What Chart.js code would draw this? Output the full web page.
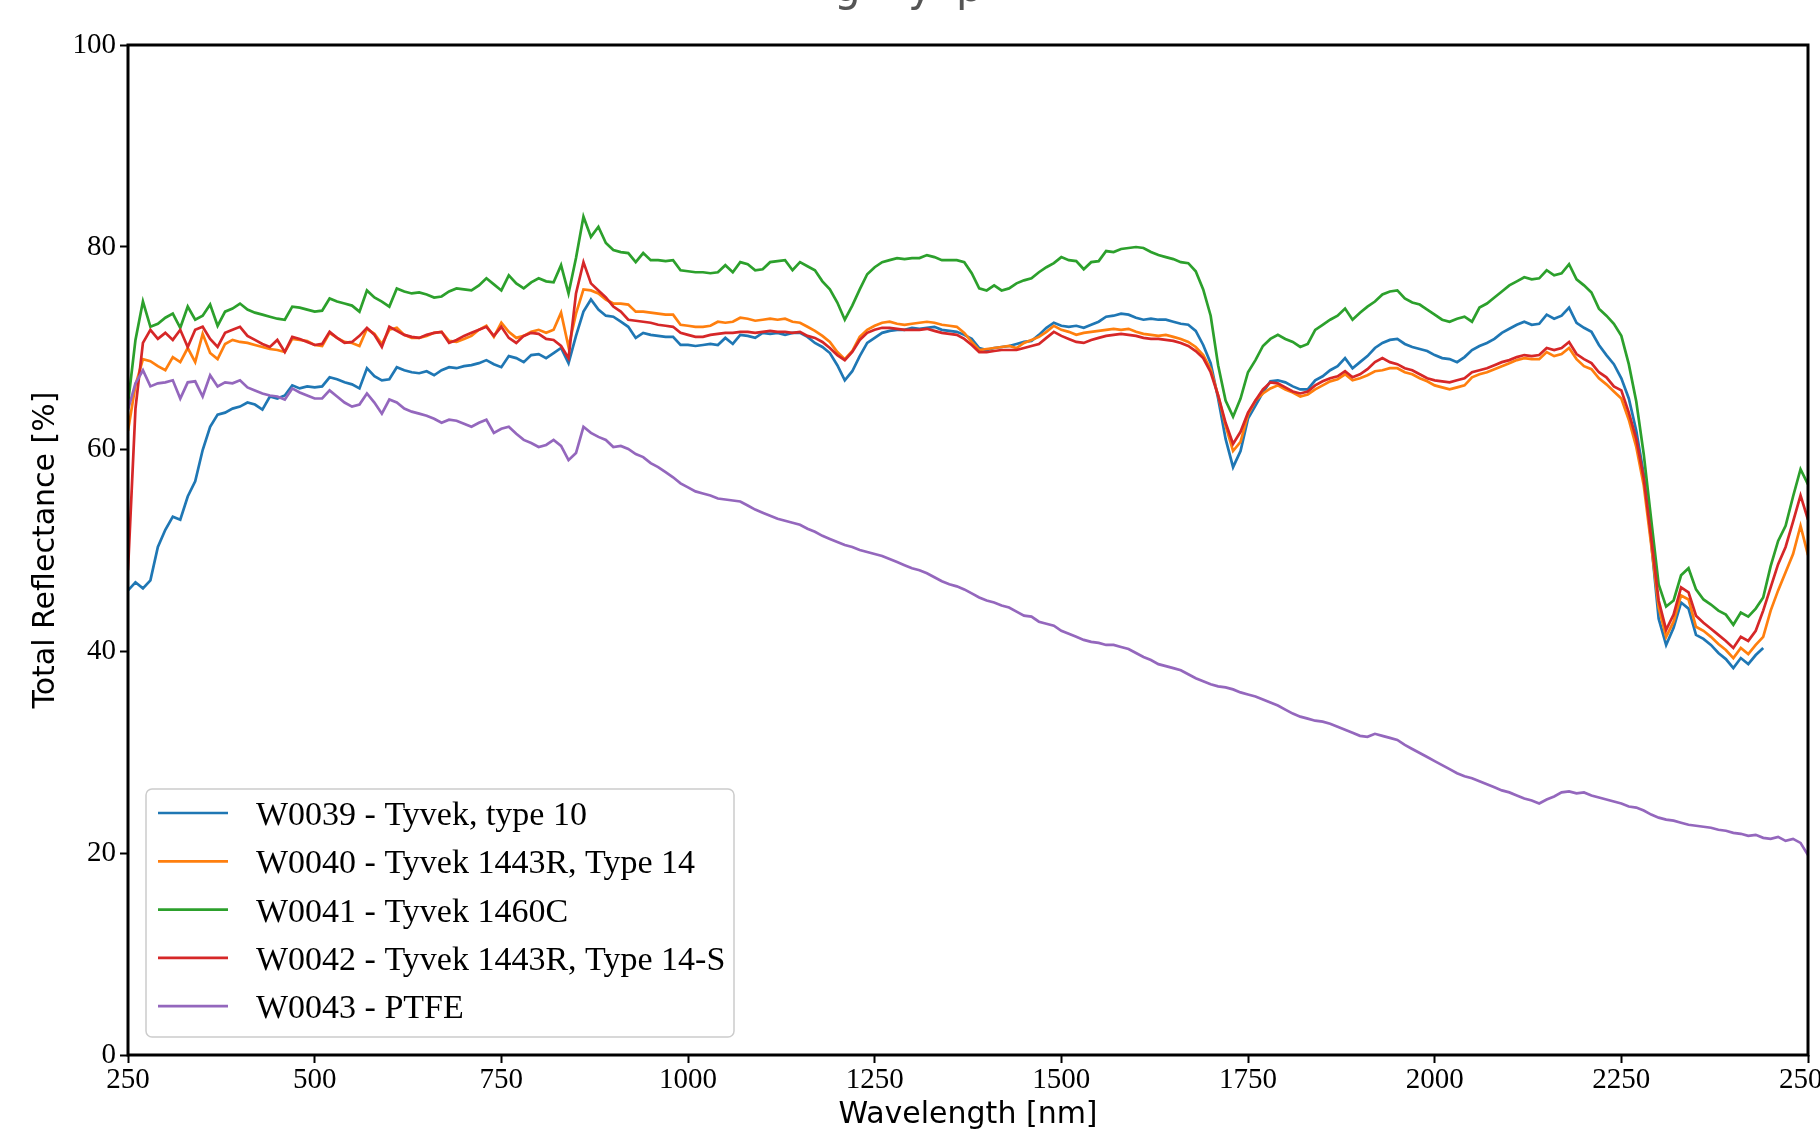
<!DOCTYPE html>
<html lang="en">
  <head>
    <meta charset="UTF-8" />
    <title>Total Reflectance</title>
    <script src="https://cdn.jsdelivr.net/npm/chart.js@4.4.1/dist/chart.umd.min.js"></script>
    <style>
      html,
      body {
        margin: 0;
        padding: 0;
        background: #ffffff;
      }
      #chart {
        display: block;
      }
    </style>
  </head>
  <body>
    <canvas id="chart" width="1820" height="1129"></canvas>

    <script>
      // wavelength grid [nm]
      const wavelengths = [
        250, 260, 270, 280, 290, 300, 310, 320, 330, 340,
        350, 360, 370, 380, 390, 400, 410, 420, 430, 440,
        450, 460, 470, 480, 490, 500, 510, 520, 530, 540,
        550, 560, 570, 580, 590, 600, 610, 620, 630, 640,
        650, 660, 670, 680, 690, 700, 710, 720, 730, 740,
        750, 760, 770, 780, 790, 800, 810, 820, 830, 840,
        850, 860, 870, 880, 890, 900, 910, 920, 930, 940,
        950, 960, 970, 980, 990, 1000, 1010, 1020, 1030, 1040,
        1050, 1060, 1070, 1080, 1090, 1100, 1110, 1120, 1130, 1140,
        1150, 1160, 1170, 1180, 1190, 1200, 1210, 1220, 1230, 1240,
        1250, 1260, 1270, 1280, 1290, 1300, 1310, 1320, 1330, 1340,
        1350, 1360, 1370, 1380, 1390, 1400, 1410, 1420, 1430, 1440,
        1450, 1460, 1470, 1480, 1490, 1500, 1510, 1520, 1530, 1540,
        1550, 1560, 1570, 1580, 1590, 1600, 1610, 1620, 1630, 1640,
        1650, 1660, 1670, 1680, 1690, 1700, 1710, 1720, 1730, 1740,
        1750, 1760, 1770, 1780, 1790, 1800, 1810, 1820, 1830, 1840,
        1850, 1860, 1870, 1880, 1890, 1900, 1910, 1920, 1930, 1940,
        1950, 1960, 1970, 1980, 1990, 2000, 2010, 2020, 2030, 2040,
        2050, 2060, 2070, 2080, 2090, 2100, 2110, 2120, 2130, 2140,
        2150, 2160, 2170, 2180, 2190, 2200, 2210, 2220, 2230, 2240,
        2250, 2260, 2270, 2280, 2290, 2300, 2310, 2320, 2330, 2340,
        2350, 2360, 2370, 2380, 2390, 2400, 2410, 2420, 2430, 2440,
        2450, 2460, 2470, 2480, 2490, 2500,
      ];

      // W0039 - Tyvek, type 10
      const w0039 = [
        46.0, 46.8, 46.2, 47.0, 50.3, 52.0, 53.3, 53.0, 55.3, 56.8,
        59.9, 62.2, 63.4, 63.6, 64.0, 64.2, 64.6, 64.4, 63.9, 65.2,
        65.0, 65.3, 66.3, 66.0, 66.2, 66.1, 66.2, 67.1, 66.9, 66.6,
        66.4, 66.0, 68.0, 67.2, 66.8, 66.9, 68.1, 67.8, 67.6, 67.5,
        67.7, 67.3, 67.8, 68.1, 68.0, 68.2, 68.3, 68.5, 68.8, 68.4,
        68.1, 69.2, 69.0, 68.6, 69.3, 69.4, 69.0, 69.5, 70.0, 68.5,
        71.2, 73.6, 74.8, 73.8, 73.2, 73.1, 72.6, 72.1, 71.0, 71.5,
        71.3, 71.2, 71.1, 71.1, 70.3, 70.3, 70.2, 70.3, 70.4, 70.3,
        71.0, 70.4, 71.3, 71.2, 71.0, 71.5, 71.4, 71.5, 71.3, 71.5,
        71.5, 71.1, 70.5, 70.1, 69.5, 68.3, 66.8, 67.7, 69.2, 70.5,
        71.0, 71.5, 71.7, 71.8, 71.8, 72.0, 71.9, 72.0, 72.1, 71.8,
        71.7, 71.6, 71.3, 70.9, 70.0, 69.8, 70.0, 70.1, 70.2, 70.4,
        70.6, 70.7, 71.3, 72.0, 72.5, 72.2, 72.1, 72.2, 72.0, 72.3,
        72.6, 73.1, 73.2, 73.4, 73.3, 73.0, 72.8, 72.9, 72.8, 72.8,
        72.6, 72.4, 72.3, 71.7, 70.3, 68.5, 65.0, 61.0, 58.2, 59.8,
        63.0, 64.3, 65.6, 66.7, 66.8, 66.6, 66.2, 65.9, 65.9, 66.8,
        67.2, 67.8, 68.2, 69.0, 68.0, 68.6, 69.2, 70.0, 70.5, 70.8,
        70.9, 70.4, 70.1, 69.9, 69.7, 69.3, 69.0, 68.9, 68.6, 69.1,
        69.8, 70.2, 70.5, 70.9, 71.5, 71.9, 72.3, 72.6, 72.3, 72.4,
        73.3, 72.9, 73.2, 74.0, 72.5, 72.0, 71.6, 70.3, 69.3, 68.4,
        67.0, 65.0, 61.8, 57.5, 50.8, 43.2, 40.6, 42.3, 44.8, 44.2,
        41.6, 41.2, 40.6, 39.8, 39.2, 38.3, 39.3, 38.7, 39.6, 40.3,
        null, null, null, null, null, null,
      ];

      // W0040 - Tyvek 1443R, Type 14
      const w0040 = [
        61.8, 66.3, 68.9, 68.7, 68.2, 67.8, 69.1, 68.6, 70.0, 68.6,
        71.4, 69.5, 68.9, 70.4, 70.8, 70.6, 70.5, 70.3, 70.1, 69.9,
        69.8, 69.6, 70.9, 70.8, 70.7, 70.3, 70.2, 71.5, 71.0, 70.6,
        70.5, 70.2, 71.9, 71.4, 70.4, 71.8, 72.0, 71.3, 71.0, 71.0,
        71.2, 71.5, 71.6, 70.7, 70.6, 70.9, 71.2, 71.8, 72.2, 71.1,
        72.5, 71.6, 71.0, 71.2, 71.6, 71.8, 71.5, 71.8, 73.5, 70.1,
        73.4, 75.8, 75.7, 75.4, 74.8, 74.4, 74.4, 74.3, 73.6, 73.6,
        73.5, 73.4, 73.3, 73.3, 72.3, 72.2, 72.1, 72.1, 72.2, 72.6,
        72.5, 72.6, 73.0, 72.9, 72.7, 72.8, 72.9, 72.8, 72.9, 72.6,
        72.5, 72.1, 71.7, 71.2, 70.6, 69.6, 68.9, 69.7, 71.1, 71.8,
        72.2, 72.5, 72.6, 72.4, 72.3, 72.4, 72.5, 72.6, 72.5, 72.3,
        72.2, 72.1, 71.5, 70.6, 69.8, 69.9, 70.0, 70.1, 70.2, 70.0,
        70.5, 70.8, 71.1, 71.6, 72.2, 71.8, 71.6, 71.3, 71.5, 71.6,
        71.7, 71.8, 71.9, 71.8, 71.9, 71.6, 71.4, 71.3, 71.2, 71.3,
        71.1, 70.9, 70.6, 70.1, 69.3, 67.9, 65.3, 62.3, 59.8, 60.7,
        63.4, 64.8, 65.5, 66.0, 66.3, 65.9, 65.6, 65.2, 65.4, 65.9,
        66.3, 66.7, 66.9, 67.4, 66.8, 67.0, 67.3, 67.7, 67.8, 68.0,
        68.0, 67.6, 67.4, 67.0, 66.7, 66.3, 66.1, 65.9, 66.1, 66.3,
        67.1, 67.4, 67.6, 67.9, 68.2, 68.5, 68.8, 69.0, 68.9, 68.9,
        69.6, 69.2, 69.4, 70.0, 68.9, 68.2, 67.9, 67.0, 66.4, 65.7,
        65.0, 62.9, 60.2, 56.4, 50.5, 44.3, 41.4, 42.9, 45.5, 45.1,
        42.4, 42.0, 41.4, 40.7, 40.1, 39.3, 40.3, 39.7, 40.6, 41.4,
        44.0, 46.0, 47.8, 49.6, 52.4, 49.5,
      ];

      // W0041 - Tyvek 1460C
      const w0041 = [
        64.5, 70.8, 74.6, 72.1, 72.4, 73.0, 73.4, 72.0, 74.1, 72.8,
        73.2, 74.3, 72.2, 73.6, 73.9, 74.4, 73.8, 73.5, 73.3, 73.1,
        72.9, 72.8, 74.1, 74.0, 73.8, 73.6, 73.7, 74.9, 74.6, 74.4,
        74.2, 73.6, 75.7, 75.0, 74.6, 74.1, 75.9, 75.6, 75.4, 75.5,
        75.3, 75.0, 75.1, 75.6, 75.9, 75.8, 75.7, 76.2, 76.9, 76.3,
        75.7, 77.2, 76.4, 75.9, 76.5, 76.9, 76.6, 76.5, 78.2, 75.4,
        78.9, 83.0, 81.0, 82.0, 80.4, 79.7, 79.5, 79.4, 78.5, 79.4,
        78.7, 78.7, 78.6, 78.7, 77.7, 77.6, 77.5, 77.5, 77.4, 77.5,
        78.2, 77.5, 78.5, 78.3, 77.7, 77.8, 78.5, 78.6, 78.7, 77.7,
        78.5, 78.1, 77.7, 76.6, 75.8, 74.5, 72.8, 74.2, 75.8, 77.3,
        78.0, 78.5, 78.7, 78.9, 78.8, 78.9, 78.9, 79.2, 79.0, 78.7,
        78.7, 78.7, 78.5, 77.4, 75.9, 75.7, 76.2, 75.7, 75.9, 76.4,
        76.7, 76.9, 77.5, 78.0, 78.4, 79.0, 78.7, 78.6, 77.8, 78.5,
        78.6, 79.6, 79.5, 79.8, 79.9, 80.0, 79.9, 79.5, 79.2, 79.0,
        78.8, 78.5, 78.4, 77.6, 75.8, 73.2, 68.3, 64.8, 63.2, 65.0,
        67.6, 68.8, 70.2, 70.9, 71.3, 70.9, 70.6, 70.1, 70.4, 71.8,
        72.3, 72.8, 73.2, 73.9, 72.8, 73.5, 74.1, 74.6, 75.3, 75.6,
        75.7, 74.9, 74.5, 74.3, 73.8, 73.3, 72.8, 72.6, 72.9, 73.1,
        72.6, 74.0, 74.4, 75.0, 75.6, 76.2, 76.6, 77.0, 76.8, 76.9,
        77.7, 77.2, 77.4, 78.3, 76.8, 76.2, 75.5, 73.9, 73.2, 72.4,
        71.2, 68.4, 64.7, 59.5, 53.0, 46.6, 44.4, 45.0, 47.5, 48.2,
        46.1, 45.1, 44.6, 44.0, 43.6, 42.6, 43.8, 43.4, 44.2, 45.3,
        48.4, 50.9, 52.4, 55.3, 58.0, 56.5,
      ];

      // W0042 - Tyvek 1443R, Type 14-S
      const w0042 = [
        48.0, 64.0, 70.5, 71.8, 70.9, 71.5, 70.8, 71.8, 70.1, 71.8,
        72.1, 70.9, 70.1, 71.5, 71.8, 72.1, 71.2, 70.8, 70.4, 70.1,
        70.8, 69.6, 71.1, 70.9, 70.6, 70.3, 70.4, 71.6, 71.0, 70.5,
        70.6, 71.2, 72.0, 71.3, 70.1, 72.1, 71.7, 71.3, 71.1, 71.0,
        71.3, 71.5, 71.6, 70.5, 70.8, 71.2, 71.5, 71.8, 72.1, 71.2,
        72.1, 71.0, 70.5, 71.2, 71.5, 71.4, 70.9, 70.8, 70.2, 69.0,
        75.4, 78.5, 76.4, 75.7, 75.0, 74.1, 73.6, 72.8, 72.7, 72.6,
        72.5, 72.3, 72.2, 72.1, 71.5, 71.3, 71.1, 71.1, 71.3, 71.4,
        71.5, 71.5, 71.6, 71.6, 71.5, 71.6, 71.7, 71.6, 71.6, 71.5,
        71.6, 71.2, 71.0, 70.6, 70.0, 69.3, 68.8, 69.6, 70.8, 71.5,
        71.8, 72.0, 72.0, 71.9, 71.8, 71.8, 71.8, 71.9, 71.7, 71.5,
        71.4, 71.3, 70.9, 70.3, 69.6, 69.6, 69.7, 69.8, 69.8, 69.8,
        70.0, 70.2, 70.4, 71.0, 71.6, 71.2, 70.9, 70.6, 70.5, 70.8,
        71.0, 71.2, 71.3, 71.4, 71.3, 71.2, 71.0, 70.9, 70.9, 70.8,
        70.7, 70.5, 70.2, 69.7, 69.0, 67.6, 65.3, 62.6, 60.5, 61.7,
        63.6, 64.8, 65.9, 66.6, 66.5, 66.1, 65.7, 65.5, 65.7, 66.3,
        66.7, 67.0, 67.2, 67.7, 67.1, 67.4, 67.9, 68.6, 69.0, 68.6,
        68.4, 68.0, 67.8, 67.4, 67.0, 66.8, 66.7, 66.6, 66.8, 67.0,
        67.6, 67.8, 68.0, 68.3, 68.6, 68.8, 69.1, 69.3, 69.2, 69.3,
        70.0, 69.8, 70.0, 70.6, 69.4, 68.9, 68.5, 67.6, 67.1, 66.2,
        65.8, 63.6, 61.0, 57.1, 51.2, 45.0, 42.1, 43.6, 46.3, 45.8,
        43.5, 42.8, 42.2, 41.6, 41.0, 40.3, 41.4, 41.0, 42.0, 44.0,
        46.3, 48.6, 50.3, 52.8, 55.4, 53.0,
      ];

      // W0043 - PTFE
      const w0043 = [
        63.9, 66.5, 67.8, 66.2, 66.5, 66.6, 66.8, 65.0, 66.6, 66.7,
        65.2, 67.3, 66.2, 66.6, 66.5, 66.8, 66.1, 65.8, 65.5, 65.3,
        65.2, 64.9, 66.0, 65.6, 65.3, 65.0, 65.0, 65.8, 65.2, 64.6,
        64.2, 64.4, 65.5, 64.6, 63.5, 64.9, 64.6, 64.0, 63.7, 63.5,
        63.3, 63.0, 62.6, 62.9, 62.8, 62.5, 62.2, 62.6, 62.9, 61.6,
        62.0, 62.2, 61.5, 60.9, 60.6, 60.2, 60.4, 60.9, 60.3, 58.9,
        59.6, 62.2, 61.6, 61.2, 60.9, 60.2, 60.3, 60.0, 59.5, 59.2,
        58.6, 58.2, 57.7, 57.2, 56.6, 56.2, 55.8, 55.6, 55.4, 55.1,
        55.0, 54.9, 54.8, 54.4, 54.0, 53.7, 53.4, 53.1, 52.9, 52.7,
        52.5, 52.1, 51.8, 51.4, 51.1, 50.8, 50.5, 50.3, 50.0, 49.8,
        49.6, 49.4, 49.1, 48.8, 48.5, 48.2, 48.0, 47.7, 47.3, 46.9,
        46.6, 46.4, 46.1, 45.7, 45.3, 45.0, 44.8, 44.5, 44.3, 43.9,
        43.5, 43.4, 42.9, 42.7, 42.5, 42.0, 41.7, 41.4, 41.1, 40.9,
        40.8, 40.6, 40.6, 40.4, 40.2, 39.8, 39.4, 39.1, 38.7, 38.5,
        38.3, 38.1, 37.7, 37.3, 37.0, 36.7, 36.5, 36.4, 36.2, 35.9,
        35.7, 35.5, 35.2, 34.9, 34.6, 34.2, 33.8, 33.5, 33.3, 33.1,
        33.0, 32.8, 32.5, 32.2, 31.9, 31.6, 31.5, 31.8, 31.6, 31.4,
        31.2, 30.7, 30.3, 29.9, 29.5, 29.1, 28.7, 28.3, 27.9, 27.6,
        27.4, 27.1, 26.8, 26.5, 26.2, 26.0, 25.7, 25.4, 25.2, 24.9,
        25.3, 25.6, 26.0, 26.1, 25.9, 26.0, 25.7, 25.5, 25.3, 25.1,
        24.9, 24.6, 24.5, 24.2, 23.8, 23.5, 23.3, 23.2, 23.0, 22.8,
        22.7, 22.6, 22.5, 22.3, 22.2, 22.0, 21.9, 21.7, 21.8, 21.5,
        21.4, 21.6, 21.2, 21.4, 21.0, 19.8,
      ];

      const seriesLabels = [
        "W0039 - Tyvek, type 10",
        "W0040 - Tyvek 1443R, Type 14",
        "W0041 - Tyvek 1460C",
        "W0042 - Tyvek 1443R, Type 14-S",
        "W0043 - PTFE",
      ];
      const seriesValues = [w0039, w0040, w0041, w0042, w0043];
      const seriesColors = ["#1f77b4", "#ff7f0e", "#2ca02c", "#d62728", "#9467bd"];

      const xTicks = [250, 500, 750, 1000, 1250, 1500, 1750, 2000, 2250, 2500];
      const yTicks = [0, 20, 40, 60, 80, 100];

      // only the bottom of the title survives the crop
      const titleGlyphs = [
        { text: "g", x: 834 },
        { text: "y", x: 908 },
        { text: "p", x: 956 },
      ];

      const serif = "'Liberation Serif', 'Times New Roman', serif";
      const sans = "'DejaVu Sans', sans-serif";

      const datasets = seriesValues.map((values, i) => ({
        label: seriesLabels[i],
        data: wavelengths.map((w, j) => ({ x: w, y: values[j] })),
        borderColor: seriesColors[i],
        backgroundColor: seriesColors[i],
        borderWidth: 2.7,
        pointRadius: 0,
        tension: 0,
        fill: false,
        spanGaps: false,
        // matplotlib draws later series on top
        order: seriesValues.length - i,
      }));

      const framePlugin = {
        id: "frame",
        afterDatasetsDraw(chart) {
          const { ctx, chartArea: a } = chart;
          ctx.save();
          ctx.strokeStyle = "#000";
          ctx.lineWidth = 3;
          ctx.strokeRect(a.left, a.top, a.right - a.left, a.bottom - a.top);
          ctx.restore();
        },
      };

      const legendPlugin = {
        id: "boxLegend",
        afterDraw(chart) {
          const ctx = chart.ctx;
          ctx.save();
          ctx.beginPath();
          ctx.roundRect(146, 789, 588, 248, 6);
          ctx.fillStyle = "rgba(255,255,255,0.8)";
          ctx.fill();
          ctx.strokeStyle = "#cccccc";
          ctx.lineWidth = 1.5;
          ctx.stroke();

          ctx.font = "34px " + serif;
          ctx.textBaseline = "alphabetic";
          ctx.textAlign = "left";
          chart.data.datasets.forEach((ds, i) => {
            const y = 813 + i * 48.3;
            ctx.beginPath();
            ctx.moveTo(158, y);
            ctx.lineTo(228, y);
            ctx.strokeStyle = ds.borderColor;
            ctx.lineWidth = 2.7;
            ctx.stroke();
            ctx.fillStyle = "#000";
            ctx.fillText(ds.label, 256, y + 12);
          });
          ctx.restore();
        },
      };

      const titlePlugin = {
        id: "cutTitle",
        afterDraw(chart) {
          const ctx = chart.ctx;
          ctx.save();
          ctx.font = "42px " + sans;
          ctx.fillStyle = "#555555";
          ctx.textBaseline = "alphabetic";
          ctx.textAlign = "left";
          titleGlyphs.forEach((g) => ctx.fillText(g.text, g.x, 1));
          ctx.restore();
        },
      };

      const chart = new Chart(document.querySelector("#chart"), {
        type: "line",
        data: { datasets },
        plugins: [framePlugin, legendPlugin, titlePlugin],
        options: {
          responsive: false,
          animation: false,
          devicePixelRatio: 1,
          layout: {
            autoPadding: false,
            padding: { left: 0, right: 12, top: 45, bottom: 0 },
          },
          plugins: {
            legend: { display: false },
            title: { display: false },
            tooltip: { enabled: false },
          },
          scales: {
            x: {
              type: "linear",
              min: 250,
              max: 2500,
              afterFit: (scale) => {
                scale.height = 74;
                scale.paddingLeft = 0;
                scale.paddingRight = 0;
              },
              afterBuildTicks: (scale) => {
                scale.ticks = xTicks.map((v) => ({ value: v }));
              },
              border: { display: false },
              grid: {
                drawOnChartArea: false,
                drawTicks: true,
                tickLength: 8,
                tickWidth: 2,
                tickColor: "#000",
              },
              ticks: {
                color: "#000",
                font: { family: serif, size: 29 },
                padding: 0,
                maxRotation: 0,
                autoSkip: false,
                callback: (v) => String(v),
              },
              title: {
                display: true,
                text: "Wavelength [nm]",
                color: "#000",
                font: { family: sans, size: 30 },
                padding: { top: 0, bottom: -4 },
              },
            },
            y: {
              min: 0,
              max: 100,
              afterFit: (scale) => {
                scale.width = 128;
                scale.paddingTop = 0;
                scale.paddingBottom = 0;
              },
              afterBuildTicks: (scale) => {
                scale.ticks = yTicks.map((v) => ({ value: v }));
              },
              border: { display: false },
              grid: {
                drawOnChartArea: false,
                drawTicks: true,
                tickLength: 8,
                tickWidth: 2,
                tickColor: "#000",
              },
              ticks: {
                color: "#000",
                font: { family: serif, size: 29 },
                padding: 4,
                autoSkip: false,
                callback: (v) => String(v),
              },
              title: {
                display: true,
                text: "Total Reflectance [%]",
                color: "#000",
                font: { family: sans, size: 30 },
                padding: { top: 28, bottom: 0 },
              },
            },
          },
        },
      });
    </script>
  </body>
</html>
